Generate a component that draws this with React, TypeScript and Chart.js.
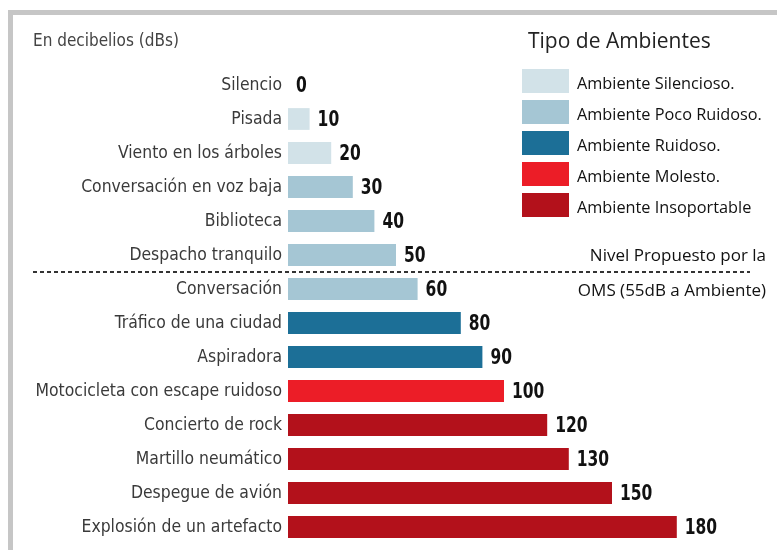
import React, { useEffect, useRef } from "react";
import { Chart, registerables } from "chart.js";

Chart.register(...registerables);

const categories = [
  "Silencio",
  "Pisada",
  "Viento en los árboles",
  "Conversación en voz baja",
  "Biblioteca",
  "Despacho tranquilo",
  "Conversación",
  "Tráfico de una ciudad",
  "Aspiradora",
  "Motocicleta con escape ruidoso",
  "Concierto de rock",
  "Martillo neumático",
  "Despegue de avión",
  "Explosión de un artefacto",
];
const decibels = [0, 10, 20, 30, 40, 50, 60, 80, 90, 100, 120, 130, 150, 180];
const typeIndex = [0, 0, 0, 1, 1, 1, 1, 2, 2, 3, 4, 4, 4, 4];
const typeNames = [
  "Ambiente Silencioso.",
  "Ambiente Poco Ruidoso.",
  "Ambiente Ruidoso.",
  "Ambiente Molesto.",
  "Ambiente Insoportable",
];
const typeColors = ["#d2e2e8", "#a5c6d4", "#1c6f97", "#ec1d27", "#b3111b"];
const legendTitle = "Tipo de Ambientes";
const unitTitle = "En decibelios (dBs)";
const thresholdAfterIndex = 5; // line drawn between "Despacho tranquilo" and "Conversación"
const thresholdText = ["Nivel Propuesto por la", "OMS (55dB a Ambiente)"];

const NARROW = '"Liberation Sans Narrow", "DejaVu Sans Condensed", sans-serif';
const SANS = '"Open Sans", "Noto Sans", sans-serif';

export default function App() {
  const ref = useRef<HTMLCanvasElement | null>(null);

  useEffect(() => {
    if (!ref.current) return;

    const decorPlugin = {
      id: "decor",
      beforeDraw(chart: any) {
        const ctx = chart.ctx;
        ctx.save();
        ctx.fillStyle = "#ffffff";
        ctx.fillRect(0, 0, chart.width, chart.height);
        // frame
        ctx.fillStyle = "#c6c6c6";
        ctx.fillRect(8, 10, chart.width - 8, 5);
        ctx.fillRect(8, 10, 5, chart.height - 10);
        ctx.restore();
      },
      afterDatasetsDraw(chart: any) {
        const ctx = chart.ctx;
        const yScale = chart.scales.y;
        ctx.save();
        // value labels (condensed bold)
        ctx.font = `bold 21px ${NARROW}`;
        ctx.fillStyle = "#111111";
        ctx.textAlign = "left";
        ctx.textBaseline = "middle";
        decibels.forEach((v, i) => {
          const meta = chart.getDatasetMeta(typeIndex[i]);
          const el = meta.data[i];
          if (!el) return;
          const sx = 0.82;
          ctx.save();
          ctx.translate(el.x + 8, el.y + 2);
          ctx.scale(sx, 1);
          ctx.fillText(String(v), 0, 0);
          ctx.restore();
        });

        // threshold dashed line
        const yLine = yScale.getPixelForValue(thresholdAfterIndex + 0.5);
        ctx.strokeStyle = "#333333";
        ctx.lineWidth = 2;
        ctx.setLineDash([4, 3]);
        ctx.beginPath();
        ctx.moveTo(33, yLine);
        ctx.lineTo(750, yLine);
        ctx.stroke();
        ctx.setLineDash([]);

        ctx.font = `17px ${SANS}`;
        ctx.fillStyle = "#111111";
        ctx.textAlign = "right";
        const y0 = yScale.getPixelForValue(thresholdAfterIndex);
        const y1 = yScale.getPixelForValue(thresholdAfterIndex + 1);
        ctx.fillText(thresholdText[0], 766, y0 + 1);
        ctx.fillText(thresholdText[1], 766, y1 + 2);

        // unit title
        ctx.font = `17px ${NARROW}`;
        ctx.fillStyle = "#444444";
        ctx.textAlign = "left";
        ctx.fillText(unitTitle, 33, 42);

        // legend
        ctx.font = `21px ${SANS}`;
        ctx.fillStyle = "#222222";
        ctx.fillText(legendTitle, 528, 42);
        ctx.font = `16.3px ${SANS}`;
        chart.data.datasets.forEach((ds: any, k: number) => {
          const top = 69 + k * 31;
          ctx.fillStyle = ds.backgroundColor;
          ctx.fillRect(522, top, 47, 24);
          ctx.fillStyle = "#111111";
          ctx.fillText(ds.label, 577, top + 15);
        });
        ctx.restore();
      },
    };

    const chart = new Chart(ref.current, {
      type: "bar",
      data: {
        labels: categories,
        datasets: typeNames.map((name, t) => ({
          label: name,
          data: decibels.map((v, i) => (typeIndex[i] === t ? v : null)),
          backgroundColor: typeColors[t],
          borderWidth: 0,
          barPercentage: 0.64,
          categoryPercentage: 1,
        })),
      },
      options: {
        indexAxis: "y",
        responsive: false,
        animation: false,
        layout: { padding: { left: 0, right: 57, top: 68, bottom: 6 } },
        plugins: {
          legend: { display: false },
          tooltip: { enabled: false },
          title: { display: false },
        },
        scales: {
          x: {
            stacked: true,
            display: false,
            min: 0,
            max: 200,
          },
          y: {
            stacked: true,
            grid: { display: false, drawTicks: false },
            border: { display: false },
            ticks: {
              autoSkip: false,
              padding: 6,
              color: "#3a3a3a",
              font: { family: NARROW, size: 17.4 },
            },
            afterFit(scale: any) {
              scale.width = 288;
              scale.paddingTop = 0;
              scale.paddingBottom = 0;
            },
          },
        },
      },
      plugins: [decorPlugin],
    } as any);

    return () => chart.destroy();
  }, []);

  return (
    <div style={{ position: "absolute", left: 0, top: 0, width: 777, height: 550 }}>
      <canvas ref={ref} width={777} height={550} />
    </div>
  );
}
